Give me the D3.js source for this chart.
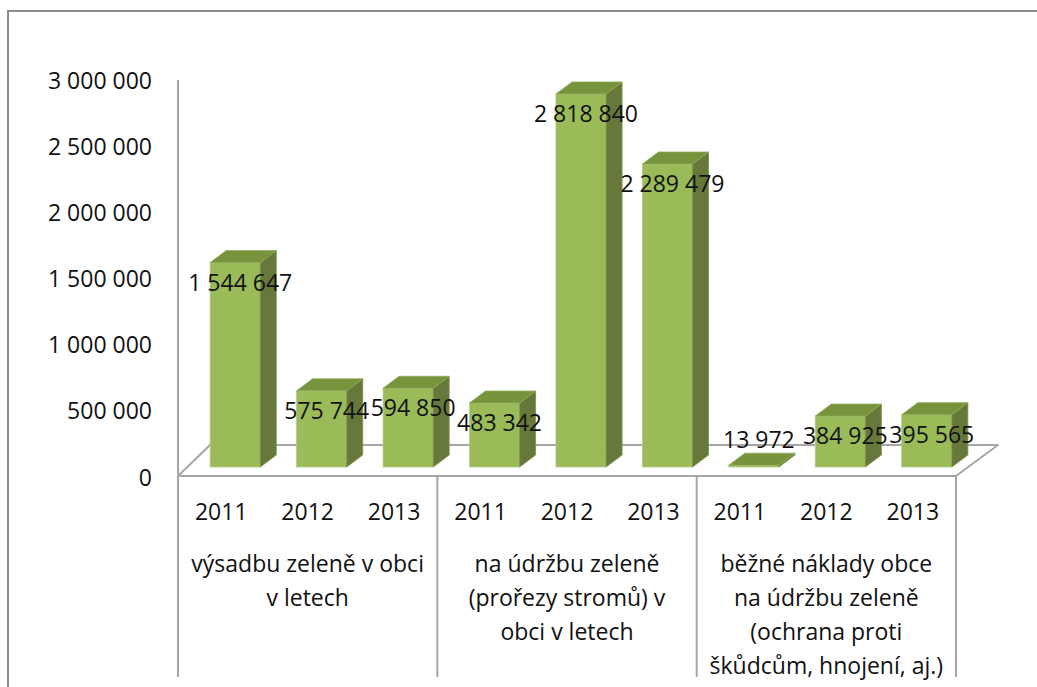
<!DOCTYPE html>
<html><head><meta charset="utf-8">
<script src="https://cdn.jsdelivr.net/npm/d3@7"></script>
<style>
html,body{margin:0;padding:0;background:#fff;}
svg{display:block;}
text{font-family:"Open Sans","Noto Sans",sans-serif;fill:#111;}
</style></head><body>
<svg id="c" width="1037" height="687"></svg>
<script>
// ---- data ----
const years = ["2011", "2012", "2013"];
const groupNames = [
  "výsadbu zeleně v obci v letech",
  "na údržbu zeleně (prořezy stromů) v obci v letech",
  "běžné náklady obce na údržbu zeleně (ochrana proti škůdcům, hnojení, aj.)"
];
const groupLabelLines = [
  ["výsadbu zeleně v obci", "v letech"],
  ["na údržbu zeleně", "(prořezy stromů) v", "obci v letech"],
  ["běžné náklady obce", "na údržbu zeleně", "(ochrana proti", "škůdcům, hnojení, aj.)"]
];
const vysadbaValues = [1544647, 575744, 594850];
const udrzbaValues = [483342, 2818840, 2289479];
const bezneValues = [13972, 384925, 395565];
const yTickValues = [0, 500000, 1000000, 1500000, 2000000, 2500000, 3000000];

// ---- build ----
const seriesByGroup = [vysadbaValues, udrzbaValues, bezneValues];
const rows = [];
seriesByGroup.forEach((vals, gi) => vals.forEach((v, yi) => rows.push({g: gi, year: years[yi], value: v, key: gi + "-" + yi})));

const svg = d3.select("#c");
const fontSize = 23;
const loc = d3.formatLocale({decimal: ",", thousands: "\u00a0", grouping: [3], currency: ["", ""]});
const fmt = loc.format(",d");

// frame
svg.append("rect").attr("x", 8).attr("y", 11).attr("width", 1100).attr("height", 800)
  .attr("fill", "none").attr("stroke", "#8c8c8c").attr("stroke-width", 2);

const xLeft = 178, xRight = 956;
const x = d3.scaleBand().domain(rows.map(d => d.key)).range([xLeft, xRight]).paddingInner(0.42).paddingOuter(0.21);
const y = d3.scaleLinear().domain([0, 3000000]).range([477, 80]);

// floor
const floorDy = -31, floorDxL = 32, floorDxR = 42;
const y0 = 476;
svg.append("path")
  .attr("d", `M${xLeft},${y0} L${xRight},${y0} L${xRight + floorDxR},${y0 + floorDy} L${xLeft + floorDxL},${y0 + floorDy} Z`)
  .attr("fill", "#fff").attr("stroke", "#a6a6a6").attr("stroke-width", 2).attr("stroke-linejoin", "round");

// value axis line
svg.append("line").attr("x1", xLeft).attr("x2", xLeft).attr("y1", y(3000000)).attr("y2", y0)
  .attr("stroke", "#a6a6a6").attr("stroke-width", 2);

// value axis labels
const yAxis = svg.append("g").attr("transform", `translate(${xLeft},0)`)
  .call(d3.axisLeft(y).tickValues(yTickValues).tickFormat(fmt).tickSize(0).tickPadding(26));
yAxis.select(".domain").remove();
yAxis.selectAll("text").style("font-size", fontSize + "px").attr("font-family", null).attr("dy", "0.35em");

// bars (3D)
const shiftX = 14, shiftY = -10;     // bar placement inside floor depth
const depthX = 16, depthY = -12;     // bar depth
const bw = x.bandwidth();
const bars = svg.append("g");
rows.forEach(d => {
  const x0 = x(d.key) + shiftX;
  const yb = y(0) + shiftY;
  const yt = y(d.value) + shiftY;
  const g = bars.append("g");
  // front
  g.append("rect").attr("x", x0).attr("y", yt).attr("width", bw).attr("height", Math.max(0, yb - yt))
    .attr("fill", "#9bbb59").attr("stroke", "#b3cc85").attr("stroke-width", 0.8);
  // side
  g.append("path")
    .attr("d", `M${x0 + bw},${yt} L${x0 + bw + depthX},${yt + depthY} L${x0 + bw + depthX},${yb + depthY} L${x0 + bw},${yb} Z`)
    .attr("fill", "#66783a").attr("stroke", "#7d9148").attr("stroke-width", 0.8);
  // top
  g.append("path")
    .attr("d", `M${x0},${yt} L${x0 + depthX},${yt + depthY} L${x0 + bw + depthX},${yt + depthY} L${x0 + bw},${yt} Z`)
    .attr("fill", "#77933c").attr("stroke", "#8fa95a").attr("stroke-width", 0.8);
});

// data labels
svg.append("g").selectAll("text").data(rows).join("text")
  .attr("x", d => x(d.key) + shiftX + bw / 2 + 5)
  .attr("y", d => Math.min(y(d.value) + shiftY + 20, 440))
  .attr("dy", "0.35em").attr("text-anchor", "middle")
  .style("font-size", fontSize + "px")
  .text(d => fmt(d.value));

// category axis: years
const xAxis = svg.append("g").attr("transform", `translate(0,${y0})`)
  .call(d3.axisBottom(x).tickSize(0).tickPadding(0).tickFormat(k => years[+k.split("-")[1]]));
xAxis.select(".domain").remove();
xAxis.selectAll("text").style("font-size", fontSize + "px").attr("font-family", null).attr("y", 36).attr("dy", "0.35em");

// group separators
const sepXs = [0, 3, 6, 9].map(i => xLeft + i * (xRight - xLeft) / 9);
svg.append("g").selectAll("line").data(sepXs).join("line")
  .attr("x1", d => d).attr("x2", d => d).attr("y1", y0).attr("y2", 677)
  .attr("stroke", "#a6a6a6").attr("stroke-width", 2);

// group labels
const gl = svg.append("g");
groupLabelLines.forEach((lines, gi) => {
  const cx = (sepXs[gi] + sepXs[gi + 1]) / 2;
  const t = gl.append("text").attr("text-anchor", "middle").style("font-size", fontSize + "px");
  lines.forEach((ln, li) => {
    t.append("tspan").attr("x", cx).attr("y", 564 + li * 34).attr("dy", "0.35em").text(ln);
  });
});
</script>
</body></html>
